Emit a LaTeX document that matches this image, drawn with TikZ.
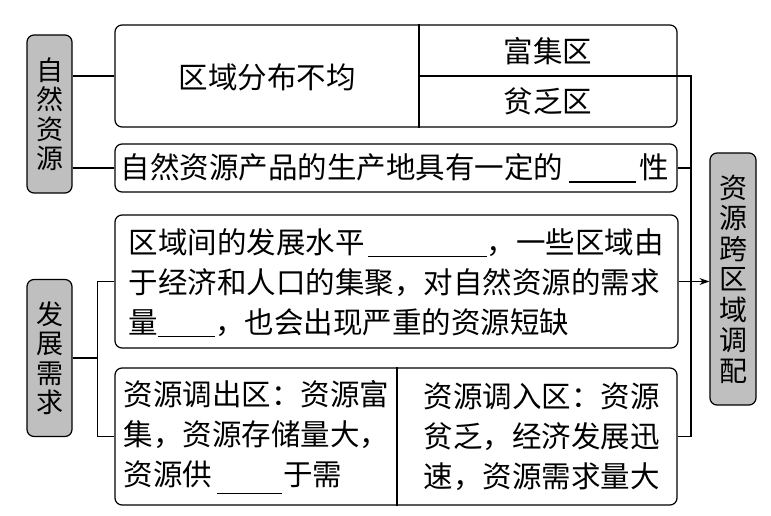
\documentclass[tikz,border=0pt]{standalone}
\usepackage{fontspec}
\setmainfont{Noto Sans CJK SC}
\usetikzlibrary{positioning,arrows.meta,calc}
\newcommand{\fillin}[2][-4pt]{\rule[#1]{#2}{1.1pt}}

\begin{document}
\begin{tikzpicture}[
  x=1pt,y=-1pt,
  line width=1.2pt,
  every node/.style={font=\fontsize{29.5}{40}\selectfont},
  box/.style={draw,rounded corners=7pt,inner sep=0pt},
  txt/.style={align=left,inner sep=0pt,anchor=west},
  headbox/.style={draw,rounded corners=7pt,fill=black!25,inner sep=0pt,
    minimum width=45pt,align=center,font=\fontsize{27}{29.5}\selectfont},
  tip/.style={-{Stealth[length=10pt,width=7pt]}}
]
\useasboundingbox (0,0) rectangle (771,516);

% 左侧标题
\node[headbox,minimum height=158pt] (nature) at (49.5,114) {自\\然\\资\\源};
\node[headbox,minimum height=157pt] (develop) at (49.5,358) {发\\展\\需\\求};
% 右侧标题
\node[headbox,minimum width=46pt,minimum height=252pt,
  font=\fontsize{28}{30.5}\selectfont] (alloc) at (733,279)
  {资\\源\\跨\\区\\域\\调\\配};

% 区域分布不均
\node[box,minimum width=562pt,minimum height=102pt] (uneven) at (396,76) {};
\coordinate (split) at (419,76);
\draw (uneven.north -| split) -- (uneven.south -| split);
\node (unevenlbl) at (267,77) {区域分布不均};
\node (rich) at (548,51) {富集区};
\node (poor) at (548,101) {贫乏区};

% 生产地
\node[box,minimum width=562pt,minimum height=48pt] (prod) at (396,168) {};
\node[txt] (prodlbl) at (120,168)
  {自然资源产品的生产地具有一定的\hspace{6pt}\fillin{67pt}\hspace{3pt}性};

% 发展水平
\node[box,minimum width=563pt,minimum height=133pt] (need) at (396.5,281.5) {};
\node[txt] (needlbl) at (128,283)
  {区域间的发展水平\hspace{3pt}\fillin{119pt}，一些区域由\\
   于经济和人口的集聚，对自然资源的需求\\
   量\fillin{57pt}，也会出现严重的资源短缺};

% 调出区 / 调入区
\node[box,minimum width=562pt,minimum height=137pt] (flow) at (396,436.5) {};
\coordinate (mid) at (397,436.5);
\draw (flow.north -| mid) -- (flow.south -| mid);
\node[txt] (outlbl) at (123,437)
  {资源调出区：资源富\\
   集，资源存储量大，\\
   资源供\hspace{5pt}\fillin[-9pt]{65pt}\hspace{1pt}于需};
\node[txt] (inlbl) at (423,437)
  {资源调入区：资源\\
   贫乏，经济发展迅\\
   速，资源需求量大};

% 连线
\draw (nature.east |- uneven.west) -- (uneven.west);
\draw (nature.east |- prod.west) -- (prod.west);
\coordinate (devjoint) at ($(develop.east)+(25,0)$);
\draw (develop.east) -- (devjoint);
\draw (need.west) -| (devjoint) |- (flow.west);

\coordinate (bus) at (691,76);
\draw (split) -- (bus) |- (flow.east);
\draw (prod.east) -- (prod.east -| bus);
\draw[tip] (need.east) -- (need.east -| alloc.west);
\end{tikzpicture}
\end{document}
